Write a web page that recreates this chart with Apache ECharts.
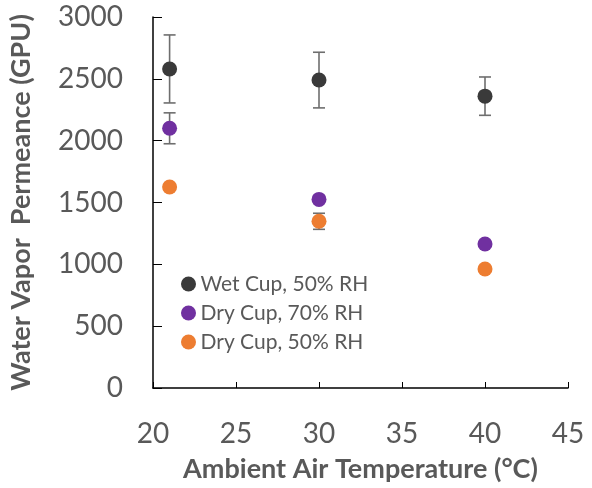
<!DOCTYPE html>
<html>
<head>
<meta charset="utf-8">
<script src="https://cdn.jsdelivr.net/npm/echarts@6/dist/echarts.min.js"></script>
<style>
  html, body { margin: 0; padding: 0; background: #fff; }
  #chart { width: 592px; height: 488px; }
</style>
</head>
<body>
<div id="chart"></div>
<script>
// Ambient temperatures (°C)
const temperatures = [21, 30, 40];

// Water vapor permeance (GPU) and standard deviations
const wetCup50 = [2580, 2490, 2360];
const wetCup50Err = [275, 225, 155];
const dryCup70 = [2100, 1525, 1165];
const dryCup70Err = [125, 15, 15];
const dryCup50 = [1625, 1348, 962];
const dryCup50Err = [20, 65, 20];

const seriesNames = ['Wet Cup, 50% RH', 'Dry Cup, 70% RH', 'Dry Cup, 50% RH'];
const seriesColors = ['#3a3a3a', '#7030a0', '#ed7d31'];

const FONT = 'Lato, "Open Sans", sans-serif';
const TEXT = '#595959';

function pairs(values) {
  return temperatures.map((t, i) => [t, values[i]]);
}

function errorSeries(values, errs) {
  return {
    type: 'custom',
    silent: true,
    z: 1,
    data: temperatures.map((t, i) => [t, values[i] - errs[i], values[i] + errs[i]]),
    renderItem: function (params, api) {
      const lo = api.coord([api.value(0), api.value(1)]);
      const hi = api.coord([api.value(0), api.value(2)]);
      const w = 6;
      const style = { stroke: '#6e6e6e', lineWidth: 1.6 };
      return {
        type: 'group',
        children: [
          { type: 'line', shape: { x1: lo[0], y1: lo[1], x2: hi[0], y2: hi[1] }, style },
          { type: 'line', shape: { x1: lo[0] - w, y1: lo[1], x2: lo[0] + w, y2: lo[1] }, style },
          { type: 'line', shape: { x1: hi[0] - w, y1: hi[1], x2: hi[0] + w, y2: hi[1] }, style }
        ]
      };
    }
  };
}

function pointSeries(idx, values) {
  return {
    name: seriesNames[idx],
    type: 'scatter',
    symbol: 'circle',
    symbolSize: 15,
    z: 3,
    itemStyle: { color: seriesColors[idx], opacity: 1 },
    data: pairs(values)
  };
}

const chart = echarts.init(document.getElementById('chart'), null, { renderer: 'canvas' });
chart.setOption({
  animation: false,
  backgroundColor: '#ffffff',
  grid: { left: 150, right: 24, top: 17, bottom: 97, containLabel: false },
  legend: {
    orient: 'vertical',
    left: 176,
    top: 268,
    itemGap: 7,
    itemWidth: 16,
    itemHeight: 15,
    icon: 'circle',
    data: seriesNames,
    textStyle: { fontFamily: FONT, fontSize: 21, lineHeight: 22, color: TEXT, padding: [0, 0, 0, -1] }
  },
  xAxis: {
    type: 'value',
    min: 20,
    max: 45,
    interval: 5,
    name: 'Ambient Air Temperature (°C)',
    nameLocation: 'middle',
    nameGap: 68,
    nameTextStyle: { fontFamily: FONT, fontSize: 27, fontWeight: 'bold', color: TEXT },
    axisLine: { show: true, lineStyle: { color: '#000', width: 1.5 } },
    axisTick: { show: true, inside: true, length: 6, lineStyle: { color: '#000' } },
    axisLabel: { fontFamily: FONT, fontSize: 28, color: TEXT, margin: 32 },
    splitLine: { show: false }
  },
  yAxis: {
    type: 'value',
    min: 0,
    max: 3000,
    interval: 500,
    name: 'Water Vapor  Permeance (GPU)',
    nameLocation: 'middle',
    nameGap: 118,
    nameTextStyle: { fontFamily: FONT, fontSize: 27, fontWeight: 'bold', color: TEXT },
    axisLine: { show: true, lineStyle: { color: '#000', width: 1.5 } },
    axisTick: { show: true, inside: true, length: 9, lineStyle: { color: '#000' } },
    axisLabel: { fontFamily: FONT, fontSize: 28, color: TEXT, margin: 30, formatter: v => String(v) },
    splitLine: { show: false }
  },
  series: [
    errorSeries(wetCup50, wetCup50Err),
    errorSeries(dryCup70, dryCup70Err),
    errorSeries(dryCup50, dryCup50Err),
    pointSeries(0, wetCup50),
    pointSeries(1, dryCup70),
    pointSeries(2, dryCup50)
  ]
});
</script>
</body>
</html>
